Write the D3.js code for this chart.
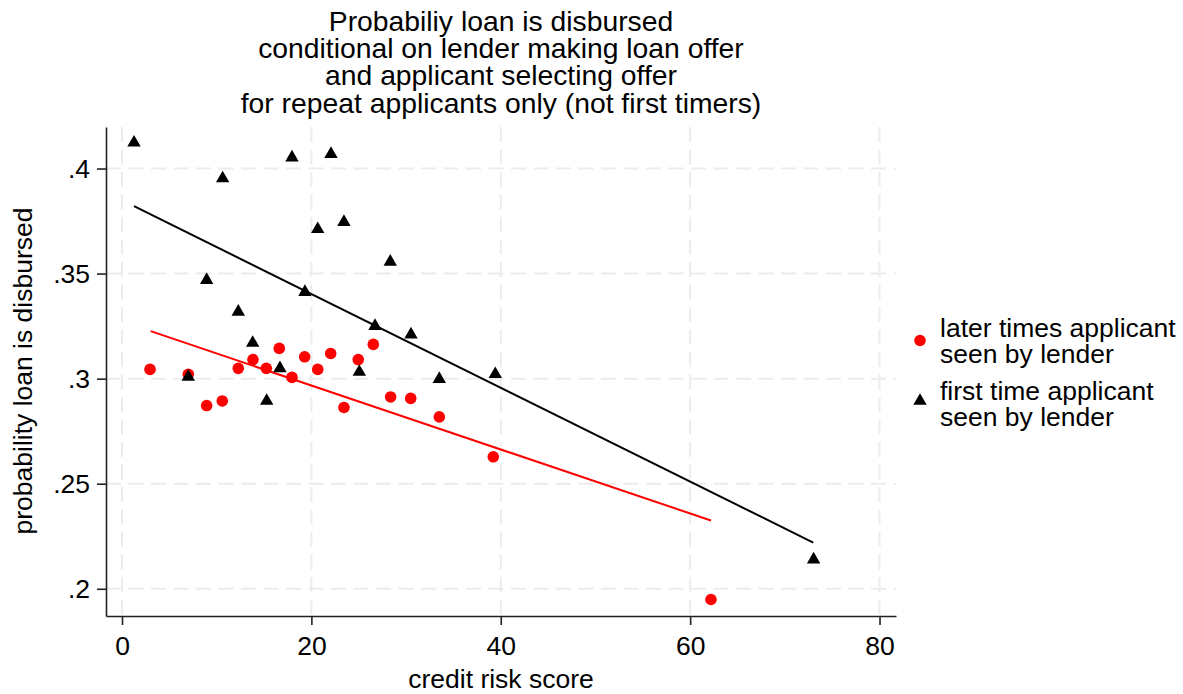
<!DOCTYPE html>
<html>
<head>
<meta charset="utf-8">
<script src="https://cdn.jsdelivr.net/npm/d3@7"></script>
<style>
  body { margin: 0; background: #fff; }
  text { font-family: "Liberation Sans", Arial, sans-serif; fill: #000; }
</style>
</head>
<body>
<div id="chart"></div>
<script>
// credit risk score / probability for first time applicants (triangles)
firstX = [1.27, 10.63, 17.95, 22.07, 20.67, 23.44, 8.94, 19.32, 12.28, 28.33,
          13.80, 16.68, 7.0, 15.28, 26.72, 30.52, 25.06, 33.51, 39.42, 73.04]
firstY = [0.4123, 0.3953, 0.4052, 0.4069, 0.3711, 0.3745, 0.3469, 0.3412, 0.3318, 0.3556,
          0.3170, 0.3049, 0.3009, 0.2894, 0.3250, 0.3210, 0.3032, 0.2998, 0.3021, 0.2139]

// later times applicants (circles)
laterX = [2.96, 7.0, 8.94, 10.59, 12.28, 13.83, 15.24, 16.61, 17.95, 19.29,
          20.67, 22.04, 23.44, 24.95, 26.54, 28.37, 30.49, 33.51, 39.21, 62.20]
laterY = [0.3044, 0.3021, 0.2872, 0.2894, 0.3049, 0.3091, 0.3049, 0.3144, 0.3006, 0.3104,
          0.3044, 0.3120, 0.2863, 0.3091, 0.3163, 0.2913, 0.2906, 0.2818, 0.2628, 0.1949]

// fitted lines, endpoints
firstFit = [[1.27, 0.3821], [73.0, 0.2220]]
laterFit = [[3.03, 0.3226], [62.2, 0.2325]]

xTicks = [0, 20, 40, 60, 80]
yTicks = [0.2, 0.25, 0.3, 0.35, 0.4]
yTickLabels = [".2", ".25", ".3", ".35", ".4"]

titleLines = ["Probabiliy loan is disbursed",
              "conditional on lender making loan offer",
              "and applicant selecting offer",
              "for repeat applicants only (not first timers)"]
legendItems = [
  {lines: ["later times applicant", "seen by lender"], shape: "circle", color: "#ff0000"},
  {lines: ["first time applicant", "seen by lender"], shape: "triangle", color: "#000000"}
]

width = 1183
height = 694
plot = {left: 106, right: 896, top: 127, bottom: 616}

x = d3.scaleLinear().domain([-1.69, 81.74]).range([plot.left, plot.right])
y = d3.scaleLinear().domain([0.18705, 0.41976]).range([plot.bottom, plot.top])

svg = d3.select("#chart").append("svg")
  .attr("width", width)
  .attr("height", height)

// grid
svg.append("g")
  .selectAll("line")
  .data(xTicks)
  .join("line")
  .attr("x1", d => x(d)).attr("x2", d => x(d))
  .attr("y1", plot.top).attr("y2", plot.bottom)
  .attr("stroke", "#ececec")
  .attr("stroke-width", 2)
  .attr("stroke-dasharray", "15,7.5")

svg.append("g")
  .selectAll("line")
  .data(yTicks)
  .join("line")
  .attr("x1", plot.left).attr("x2", plot.right)
  .attr("y1", d => y(d)).attr("y2", d => y(d))
  .attr("stroke", "#ececec")
  .attr("stroke-width", 2)
  .attr("stroke-dasharray", "15,7.5")

// axes
xAxis = svg.append("g")
  .attr("transform", "translate(0," + plot.bottom + ")")
  .call(d3.axisBottom(x).tickValues(xTicks).tickSize(9).tickPadding(11).tickSizeOuter(0))
yAxis = svg.append("g")
  .attr("transform", "translate(" + plot.left + ",0)")
  .call(d3.axisLeft(y).tickValues(yTicks).tickSize(9).tickPadding(7).tickSizeOuter(0)
        .tickFormat((d, i) => yTickLabels[i]))

svg.selectAll(".domain").attr("stroke", "#222").attr("stroke-width", 1.6)
svg.selectAll(".tick line").attr("stroke", "#222").attr("stroke-width", 1.6)
svg.selectAll(".tick text")
  .attr("font-size", "26.5px")
  .attr("font-family", "Liberation Sans, Arial, sans-serif")
  .attr("fill", "#000")

// fitted lines
line = d3.line().x(d => x(d[0])).y(d => y(d[1]))
svg.append("path").datum(laterFit)
  .attr("d", line).attr("fill", "none").attr("stroke", "#ff0000").attr("stroke-width", 2)
svg.append("path").datum(firstFit)
  .attr("d", line).attr("fill", "none").attr("stroke", "#000").attr("stroke-width", 2)

// points
tri = d3.symbol().type(d3.symbolTriangle).size(78)

svg.append("g")
  .selectAll("circle")
  .data(laterX.map((d, i) => [d, laterY[i]]))
  .join("circle")
  .attr("cx", d => x(d[0]))
  .attr("cy", d => y(d[1]))
  .attr("r", 5.8)
  .attr("fill", "#ff0000")

svg.append("g")
  .selectAll("path")
  .data(firstX.map((d, i) => [d, firstY[i]]))
  .join("path")
  .attr("d", tri)
  .attr("transform", d => "translate(" + x(d[0]) + "," + y(d[1]) + ")")
  .attr("fill", "#000")

// title, one text block with a tspan per line
svg.append("text")
  .attr("text-anchor", "middle")
  .attr("font-size", "28.3px")
  .selectAll("tspan")
  .data(titleLines)
  .join("tspan")
  .attr("x", (plot.left + plot.right) / 2)
  .attr("y", (d, i) => 31 + i * 27.2)
  .text(d => d)

// axis titles
svg.append("text")
  .attr("x", (plot.left + plot.right) / 2)
  .attr("y", 688)
  .attr("text-anchor", "middle")
  .attr("font-size", "26.5px")
  .text("credit risk score")

svg.append("text")
  .attr("transform", "translate(31.5," + 371 + ") rotate(-90)")
  .attr("text-anchor", "middle")
  .attr("font-size", "26.5px")
  .text("probability loan is disbursed")

// legend
legend = svg.append("g")
  .selectAll("g")
  .data(legendItems)
  .join("g")
  .attr("transform", (d, i) => "translate(920," + (340.5 + i * 60.5) + ")")

legend.each(function(d, k) {
  g = d3.select(this)
  if (d.shape == "circle") {
    g.append("circle").attr("r", 5.8).attr("fill", d.color)
  } else {
    g.append("path").attr("d", tri).attr("fill", d.color)
  }
  g.append("text")
    .attr("font-size", "26.5px")
    .selectAll("tspan")
    .data(d.lines)
    .join("tspan")
    .attr("x", 20)
    .attr("y", (t, i) => -3.5 + k * 2.5 + i * 25.8)
    .text(t => t)
})
</script>
</body>
</html>
